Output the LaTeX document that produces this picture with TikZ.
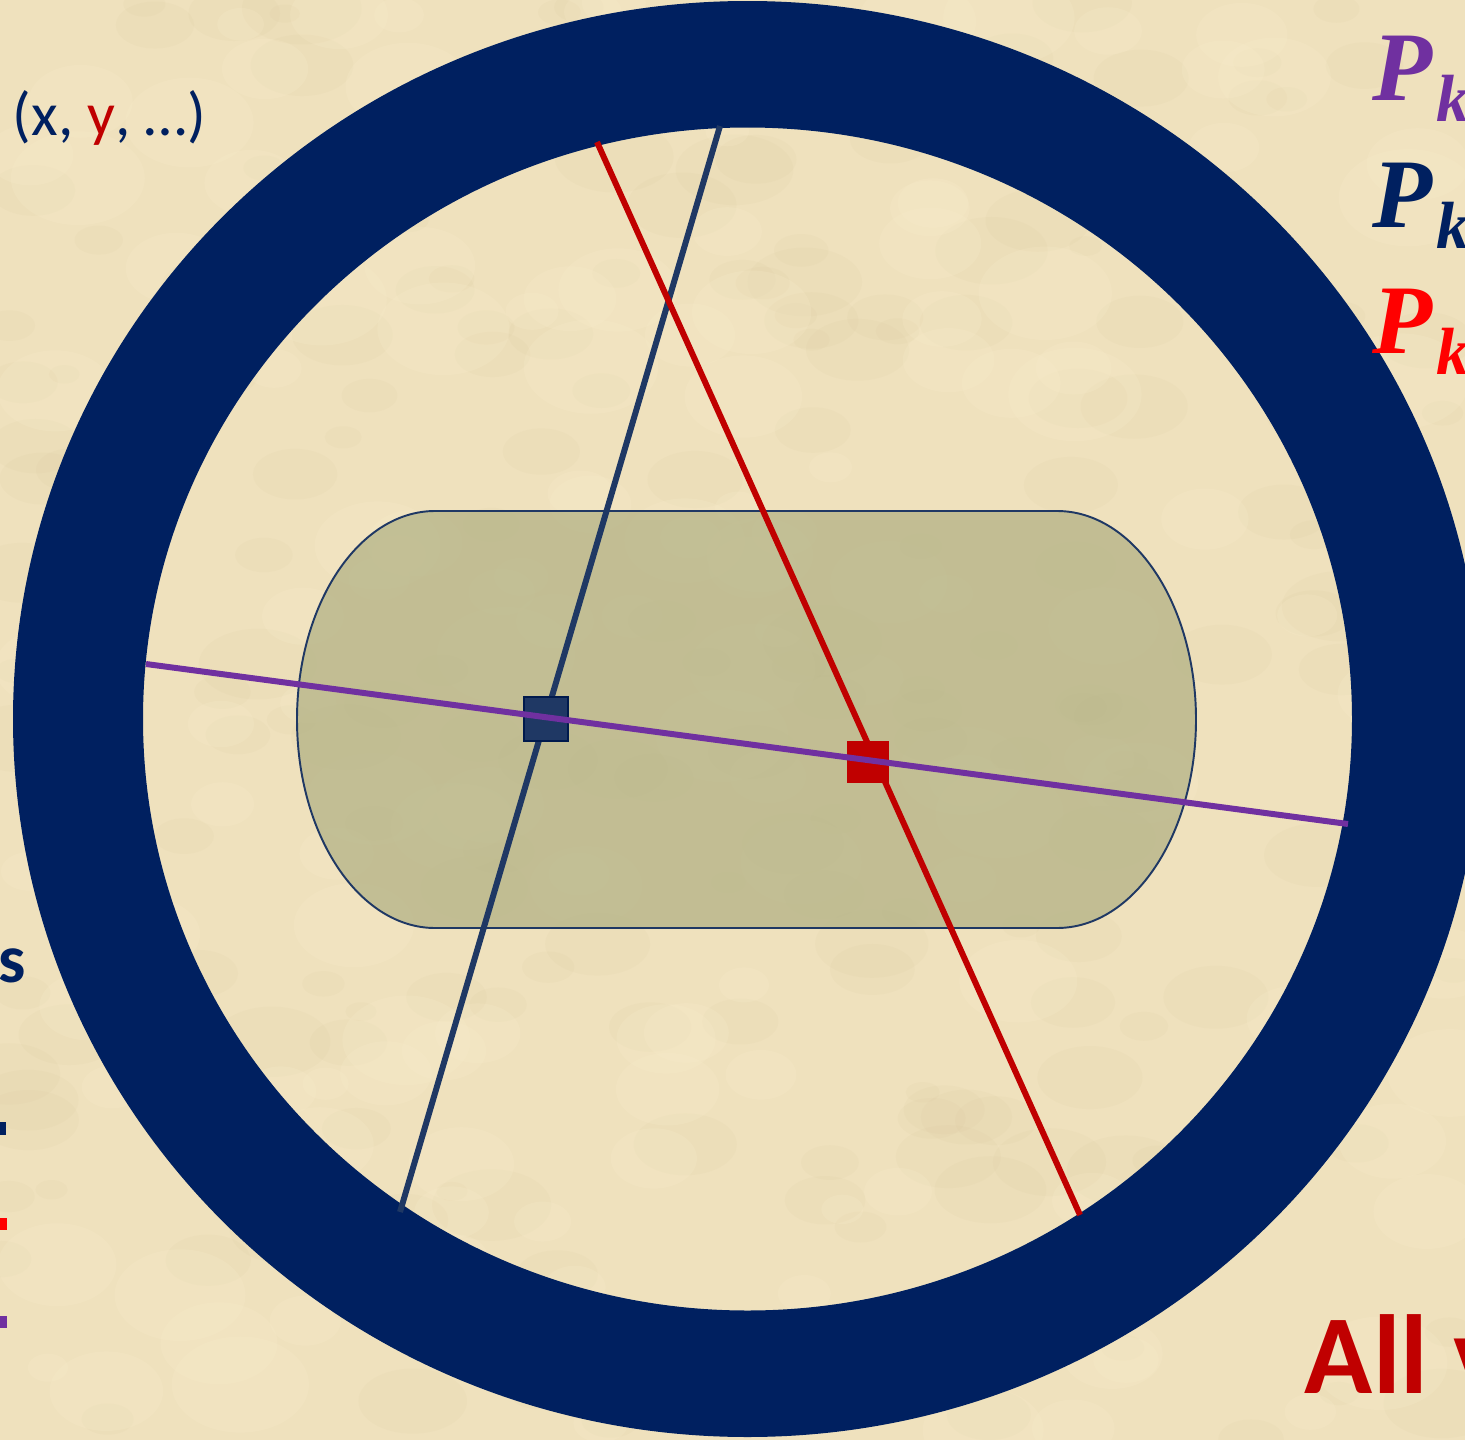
\documentclass[tikz,border=0pt]{standalone}
\usepackage{amsmath,amssymb}
\usepackage{fontspec}
\setsansfont{Carlito}
\newfontfamily\pkfont{Liberation Serif}
\usepackage{xcolor}
\usepackage{tikz}
\usetikzlibrary{positioning}

\definecolor{parchment}{RGB}{239,225,189}
\definecolor{parchdark}{RGB}{205,185,140}
\definecolor{parchlight}{RGB}{250,238,205}
\definecolor{ringblue}{RGB}{0,32,96}
\definecolor{lineblue}{RGB}{31,56,100}
\definecolor{linered}{RGB}{192,0,0}
\definecolor{linepurple}{RGB}{112,48,160}
\definecolor{brightred}{RGB}{255,0,0}
\definecolor{olivefill}{RGB}{175,175,130}

\newcommand{\pk}{{\fontsize{56}{60}\selectfont P}\kern2pt\raisebox{-12pt}{\fontsize{38}{42}\selectfont k}}

\begin{document}
\begin{tikzpicture}[x=0.02cm,y=-0.02cm,line width=3.4pt,
    chord/.style={line width=3.4pt},
    marker/.style={rectangle,inner sep=0pt},
    label/.style={inner sep=0pt,font=\sffamily\fontsize{35}{40}\selectfont},
    pterm/.style={inner sep=0pt,font=\pkfont\bfseries\itshape}]
  \useasboundingbox (0,0) rectangle (1465,1440);
  \clip (0,0) rectangle (1465,1440);
  \fill[parchment] (0,0) rectangle (1465,1440);

  % parchment mottling
  \pgfmathsetseed{11}
  \foreach \i in {1,...,220}{
    \pgfmathsetmacro{\bx}{rnd*1465}
    \pgfmathsetmacro{\by}{rnd*1440}
    \pgfmathsetmacro{\br}{15+rnd*45}
    \fill[parchdark,opacity=0.07] (\bx,\by) ellipse ({\br} and {0.6*\br});
  }
  \foreach \i in {1,...,160}{
    \pgfmathsetmacro{\bx}{rnd*1465}
    \pgfmathsetmacro{\by}{rnd*1440}
    \pgfmathsetmacro{\br}{20+rnd*50}
    \fill[parchlight,opacity=0.2] (\bx,\by) ellipse ({\br} and {0.7*\br});
  }

  % ring
  \fill[ringblue,even odd rule] (747.5,719) ellipse (734.5 and 718)
    (747.5,719) ellipse (604.5 and 591.5);

  % region
  \draw[fill=olivefill,fill opacity=0.7,draw=lineblue,line width=1.1pt]
    (435,511) -- (1057,511) arc (-90:90:139 and 208.5)
    -- (435,928) arc (90:270:138 and 208.5) -- cycle;

  % chords
  \coordinate (bluetop) at (720,126);
  \coordinate (bluebot) at (400,1212);
  \coordinate (redtop) at (597,142);
  \coordinate (redbot) at (1080,1215);
  \coordinate (purpleleft) at (146,664);
  \coordinate (purpleright) at (1348,824);
  \draw[chord,lineblue] (bluetop) -- (bluebot);
  \draw[chord,linered] (redtop) -- (redbot);

  \node[marker,fill=lineblue,draw=ringblue!80!black,line width=0.8pt,minimum size=0.88cm] (bluemin) at (546,719) {};
  \node[marker,fill=linered,minimum size=0.84cm] (redmin) at (868,762) {};

  \draw[chord,linepurple] (purpleleft) -- (purpleright);

  % texts
  \node[label,anchor=base west] (tuple) at (10,135)
    {\color{ringblue}(x, \color{linered}y\color{ringblue}, …)};
  \node[pterm,anchor=base west,text=linepurple] (ppurple) at (1370,100) {\pk};
  \node[pterm,anchor=base west,text=ringblue] (pblue) at (1370,227) {\pk};
  \node[pterm,anchor=base west,text=brightred] (pred) at (1370,353) {\pk};
  \node[label,anchor=base east,text=ringblue,font=\sffamily\bfseries\fontsize{39}{44}\selectfont] (tail) at (29,982) {s};
  \node[label,anchor=base west,text=linered,font=\sffamily\bfseries\fontsize{64}{70}\selectfont] (allv) at (1302,1393) {All v};

  % cut bullets
  \fill[ringblue] (0,1122) rectangle (6,1135);
  \fill[brightred] (0,1218) rectangle (7,1230);
  \fill[linepurple] (0,1316) rectangle (7,1328);
\end{tikzpicture}
\end{document}
